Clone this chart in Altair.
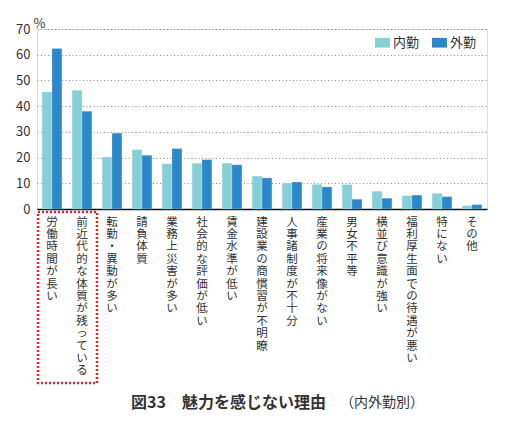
import altair as alt
import pandas as pd

categories = [
    "労働時間が長い", "前近代的な体質が残っている", "転勤・異動が多い", "請負体質",
    "業務上災害が多い", "社会的な評価が低い", "賃金水準が低い", "建設業の商慣習が不明瞭",
    "人事諸制度が不十分", "産業の将来像がない", "男女不平等", "横並び意識が強い",
    "福利厚生面での待遇が悪い", "特にない", "その他",
]
naikin = [45.5, 46.2, 20.2, 23.1, 17.6, 17.8, 17.8, 12.8, 10.1, 9.6, 9.5, 6.9, 5.2, 6.1, 1.3]
gaikin = [62.4, 38.0, 29.5, 20.9, 23.5, 19.2, 17.2, 12.1, 10.5, 8.6, 3.8, 4.2, 5.4, 4.8, 1.7]
series = ["内勤", "外勤"]
colors = ["#85CFD6", "#2A88CB"]
y_ticks = [0, 10, 20, 30, 40, 50, 60, 70]
title_main = "図33　魅力を感じない理由"
title_sub = "（内外勤別）"

rows = []
for c, a, b in zip(categories, naikin, gaikin):
    rows.append({"cat": c, "series": series[0], "value": a})
    rows.append({"cat": c, "series": series[1], "value": b})
df = pd.DataFrame(rows)

FONT = "Noto Sans CJK JP"

bars = alt.Chart(df).mark_bar(stroke="#ffffff", strokeOpacity=0.35, strokeWidth=0.6).encode(
    x=alt.X("cat:N", sort=categories,
            scale=alt.Scale(paddingInner=0.34, paddingOuter=0.17),
            axis=alt.Axis(title=None, labelAngle=0, labelExpr="split(datum.label, '')",
                          labelBaseline="top", labelAlign="center", labelFontSize=11.5,
                          labelLineHeight=12.4, labelPadding=7, labelColor="#333333",
                          labelFont=FONT, labelOverlap=False, ticks=False,
                          domainColor="#111111", domainWidth=1.5, grid=False)),
    xOffset=alt.XOffset("series:N", sort=series, scale=alt.Scale(paddingInner=0, paddingOuter=0)),
    y=alt.Y("value:Q", scale=alt.Scale(domain=[0, 70], nice=False),
            axis=alt.Axis(values=y_ticks, title="%", titleAngle=0, titleX=-4, titleY=1,
                          titleAlign="left", titleBaseline="bottom", titleFontSize=13,
                          titleFontWeight="normal", titleFont=FONT, titleColor="#333333",
                          labelFontSize=13, labelFont=FONT, labelColor="#333333",
                          labelPadding=7, domain=False, ticks=False,
                          grid=True, gridColor="#888888", gridDash=[1, 2.5], gridWidth=1)),
    color=alt.Color("series:N", sort=series,
                    scale=alt.Scale(domain=series, range=colors),
                    legend=alt.Legend(title=None, orient="none", legendX=338, legendY=6,
                                      direction="horizontal",
                                      symbolType="M-1,-0.65H1V0.65H-1Z", symbolSize=225,
                                      symbolStrokeWidth=0, labelFontSize=13, labelFont=FONT,
                                      labelColor="#333333", labelOffset=3, columnPadding=12)),
)

anno = pd.DataFrame({"a": [0]})
box = alt.Chart(anno).mark_rect(fill="transparent", stroke="#E8202A", strokeWidth=2.5,
                                strokeDash=[2, 2]).encode(
    x=alt.value(1), x2=alt.value(60), y=alt.value(183), y2=alt.value(354)
)

t1 = alt.Chart(anno).mark_text(text=title_main, font=FONT, fontSize=16, fontWeight="bold",
                               align="left", baseline="middle", color="#333333").encode(
    x=alt.value(94), y=alt.value(374)
)
t2 = alt.Chart(anno).mark_text(text=title_sub, font=FONT, fontSize=14, fontWeight="normal",
                               align="left", baseline="middle", color="#333333").encode(
    x=alt.value(303), y=alt.value(374)
)

chart = alt.layer(bars, box, t1, t2).properties(
    width=450, height=180,
    autosize=alt.AutoSizeParams(type="none"),
    padding={"left": 29, "top": 21, "right": 12, "bottom": 211},
).configure_view(stroke=None).configure(font=FONT)

chart.save("out.html", embed_options={"renderer": "svg", "actions": False})
